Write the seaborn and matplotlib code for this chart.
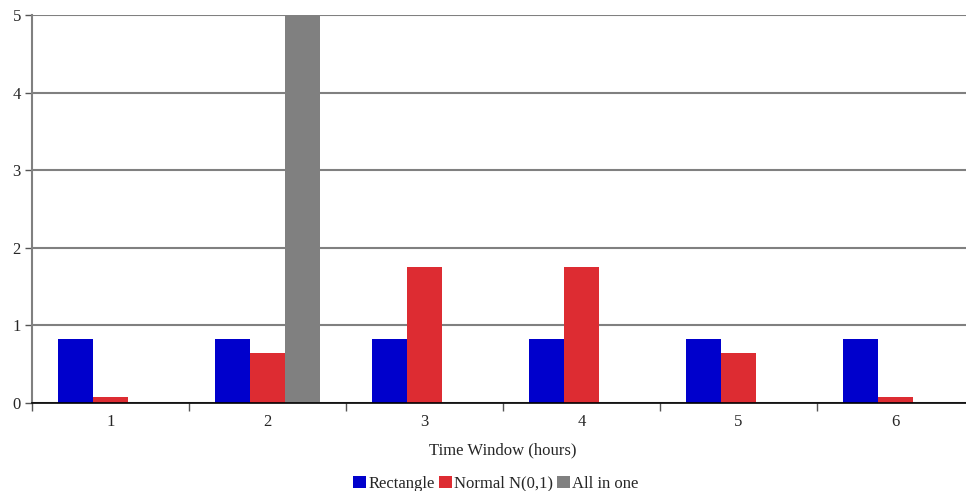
import matplotlib
matplotlib.use("Agg")
from matplotlib import pyplot as plt
from matplotlib.ticker import FixedLocator
import pandas as pd
import seaborn as sns

windows = ["1", "2", "3", "4", "5", "6"]
rectangle = [0.83, 0.83, 0.83, 0.83, 0.83, 0.83]
normal = [0.08, 0.65, 1.75, 1.75, 0.65, 0.08]
all_in_one = [0, 5.0, 0, 0, 0, 0]
series = ["Rectangle", "Normal N(0,1)", "All in one"]
colors = ["#0000cc", "#dd2c32", "#808080"]

df = pd.DataFrame({
    "window": windows * 3,
    "value": rectangle + normal + all_in_one,
    "series": [s for s in series for _ in windows],
})

sns.set_style("white")
plt.rcParams["font.family"] = ["Liberation Serif", "DejaVu Serif"]

fig = plt.figure(figsize=(9.66, 4.91), dpi=100)
ax = fig.add_axes([32 / 966, 1 - 403 / 491, 942 / 966, 388 / 491])
sns.barplot(data=df, x="window", y="value", hue="series", palette=colors,
            width=0.67, saturation=1, linewidth=0, ax=ax, legend=True)

ax.set_xlim(-0.5, 5.5)
ax.set_ylim(0, 5)
ax.set_yticks([0, 1, 2, 3, 4, 5])
ax.yaxis.grid(True, color="#808080", linewidth=1.5)
ax.set_axisbelow(True)
ax.tick_params(axis="x", which="major", length=0, labelsize=12, pad=8)
ax.xaxis.set_minor_locator(FixedLocator([i - 0.5 for i in range(7)]))
ax.tick_params(axis="x", which="minor", bottom=True, length=6, width=1,
               color="#555555", direction="out")
ax.tick_params(axis="y", length=5, width=1, color="#555555", labelsize=12,
               left=True, pad=3)
for side in ["top", "right"]:
    ax.spines[side].set_visible(False)
ax.spines["left"].set_color("#808080")
ax.spines["left"].set_linewidth(1.5)
ax.spines["bottom"].set_color("black")
ax.spines["bottom"].set_linewidth(1.2)
ax.set_xlabel("Time Window (hours)", fontsize=12, labelpad=9)
ax.set_ylabel("")

ax.legend(loc="upper center", bbox_to_anchor=(464 / 942, -0.17), ncol=3,
          frameon=False, fontsize=12, handlelength=0.75, handleheight=0.8,
          handletextpad=0.15, columnspacing=0.25, borderaxespad=0)

fig.savefig("out.png", dpi=100)
